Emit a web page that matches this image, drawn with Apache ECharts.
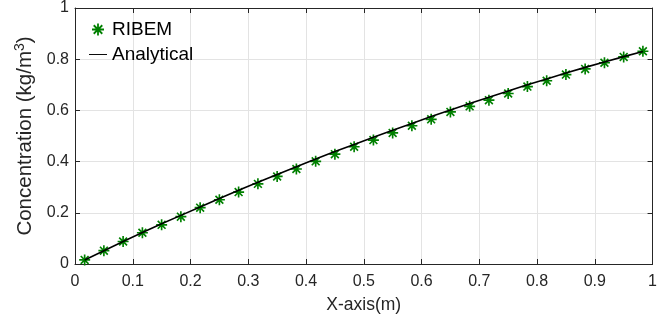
<!DOCTYPE html>
<html>
<head>
<meta charset="utf-8">
<script src="https://cdn.jsdelivr.net/npm/echarts@6/dist/echarts.min.js"></script>
<style>
  html, body { margin: 0; padding: 0; background: #fff; }
  #chart { width: 660px; height: 322px; }
</style>
</head>
<body>
<div id="chart"></div>
<script>
// sample positions along the x axis (m)
const xValues = [
  0.0167, 0.05, 0.0833, 0.1167, 0.15, 0.1833, 0.2167, 0.25, 0.2833, 0.3167,
  0.35, 0.3833, 0.4167, 0.45, 0.4833, 0.5167, 0.55, 0.5833, 0.6167, 0.65,
  0.6833, 0.7167, 0.75, 0.7833, 0.8167, 0.85, 0.8833, 0.9167, 0.95, 0.9833
]
// RIBEM numerical result
const ribemValues = [
  0.016, 0.052, 0.088, 0.122, 0.153, 0.185, 0.220, 0.251, 0.281, 0.313,
  0.342, 0.371, 0.401, 0.429, 0.458, 0.484, 0.512, 0.540, 0.565, 0.594,
  0.616, 0.640, 0.666, 0.693, 0.716, 0.740, 0.762, 0.786, 0.809, 0.831
]
// analytical solution
const analyticalValues = [
  0.016, 0.052, 0.088, 0.123, 0.157, 0.190, 0.223, 0.256, 0.288, 0.319,
  0.350, 0.380, 0.410, 0.439, 0.467, 0.495, 0.522, 0.549, 0.576, 0.602,
  0.627, 0.651, 0.676, 0.700, 0.723, 0.746, 0.768, 0.789, 0.810, 0.830
]
const xTicks = { min: 0, max: 1, interval: 0.1 }
const yTicks = { min: 0, max: 1, interval: 0.2 }

const axisColor = '#262626'
const gridColor = '#e3e3e3'
const font = '"Liberation Sans", Arial, Helvetica, sans-serif'

// asterisk marker: + and x built from four thin bars
const asterisk = 'path://M0 8.5H20V11.5H0Z' +
  'M8.5 0H11.5V20H8.5Z' +
  'M3.96 1.84L18.16 16.04L16.04 18.16L1.84 3.96Z' +
  'M16.04 1.84L18.16 3.96L3.96 18.16L1.84 16.04Z'
// plain line legend icon (the two empty moves keep the box 30x20)
const lineIcon = 'path://M0 0L0 0M30 20L30 20M0 9.2H30V10.8H0Z'

const chart = echarts.init(document.getElementById('chart'))

const boxAxis = {
  axisLine: { show: true, onZero: false, lineStyle: { color: axisColor, width: 1 } },
  axisTick: { show: true, inside: true, length: 5, lineStyle: { color: axisColor } },
  axisLabel: { show: false },
  splitLine: { show: false }
}

chart.setOption({
  animation: false,
  backgroundColor: '#fff',
  textStyle: { fontFamily: font },
  grid: { left: 75, right: 0, top: 5, bottom: 58 },
  legend: {
    orient: 'vertical',
    left: 84,
    top: 15,
    itemWidth: 18,
    itemHeight: 12,
    itemGap: 6,
    textStyle: { fontSize: 19, color: '#000', fontFamily: font },
    data: [
      { name: 'RIBEM', icon: asterisk, itemStyle: { color: '#008000' } },
      { name: 'Analytical', icon: lineIcon, itemStyle: { color: '#000' } }
    ]
  },
  xAxis: [
    {
      type: 'value',
      ...xTicks,
      name: 'X-axis(m)',
      nameLocation: 'middle',
      nameGap: 32,
      nameTextStyle: { fontSize: 17.5, color: axisColor, fontFamily: font },
      axisLine: { show: true, onZero: false, lineStyle: { color: axisColor, width: 1 } },
      axisTick: { show: true, inside: true, length: 5, lineStyle: { color: axisColor } },
      axisLabel: { fontSize: 16, color: axisColor, margin: 10, fontFamily: font },
      splitLine: { show: true, lineStyle: { color: gridColor, width: 1 } }
    },
    { type: 'value', position: 'top', ...xTicks, ...boxAxis }
  ],
  yAxis: [
    {
      type: 'value',
      ...yTicks,
      name: '{a|Concentration (kg/m}{s|3}{a|)}',
      nameLocation: 'middle',
      nameGap: 36,
      nameTextStyle: {
        fontFamily: font,
        rich: {
          a: { fontSize: 20.5, color: axisColor, fontFamily: font, lineHeight: 24 },
          s: { fontSize: 14, color: axisColor, fontFamily: font, verticalAlign: 'top', lineHeight: 24 }
        }
      },
      axisLine: { show: true, onZero: false, lineStyle: { color: axisColor, width: 1 } },
      axisTick: { show: true, inside: true, length: 5, lineStyle: { color: axisColor } },
      axisLabel: { fontSize: 16, color: axisColor, margin: 6, fontFamily: font },
      splitLine: { show: true, lineStyle: { color: gridColor, width: 1 } }
    },
    { type: 'value', position: 'right', ...yTicks, ...boxAxis }
  ],
  series: [
    {
      name: 'RIBEM',
      type: 'scatter',
      symbol: asterisk,
      symbolSize: 11,
      itemStyle: { color: '#008000', opacity: 1 },
      data: xValues.map((x, i) => [x, ribemValues[i]])
    },
    {
      name: 'Analytical',
      type: 'line',
      symbol: 'none',
      lineStyle: { color: '#000', width: 1.6 },
      itemStyle: { color: '#000' },
      data: xValues.map((x, i) => [x, analyticalValues[i]])
    }
  ]
})
</script>
</body>
</html>
